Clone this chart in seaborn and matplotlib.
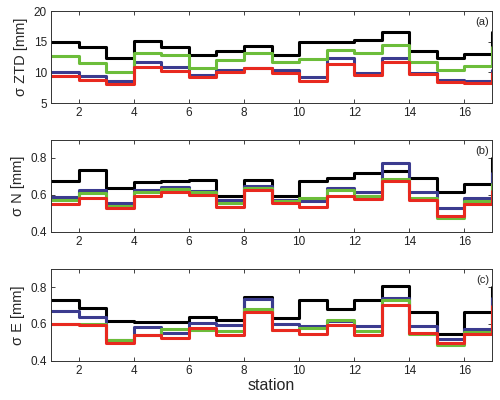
import numpy as np
import pandas as pd
import matplotlib
matplotlib.use("Agg")
import matplotlib.pyplot as plt
import seaborn as sns

# stations (last one sits on the right edge of the axes)
station = list(range(1, 18))

# (a) sigma ZTD [mm]
ztd_black = [14.9, 14.2, 12.4, 15.1, 14.1, 12.85, 13.5, 14.3, 12.75, 14.9, 14.95, 15.3, 16.6, 13.4, 12.3, 13.0, 16.6]
ztd_green = [12.7, 11.5, 10.1, 13.1, 12.75, 10.75, 12.0, 13.1, 11.65, 12.15, 13.6, 13.1, 14.4, 11.65, 10.3, 11.1, 14.2]
ztd_blue = [10.1, 9.45, 8.6, 11.65, 10.9, 9.55, 10.4, 10.75, 10.4, 9.3, 12.3, 9.95, 12.3, 9.95, 8.7, 8.55, 10.4]
ztd_red = [9.4, 8.75, 8.1, 10.8, 10.25, 9.3, 10.0, 10.65, 9.95, 8.55, 11.3, 9.55, 11.75, 9.65, 8.45, 8.2, 9.9]

# (b) sigma N [mm]
n_black = [0.676, 0.736, 0.636, 0.669, 0.676, 0.682, 0.596, 0.680, 0.596, 0.673, 0.691, 0.718, 0.727, 0.691, 0.613, 0.660, 0.80]
n_green = [0.573, 0.609, 0.540, 0.613, 0.631, 0.615, 0.558, 0.638, 0.569, 0.582, 0.624, 0.596, 0.685, 0.582, 0.473, 0.569, 0.66]
n_blue = [0.587, 0.627, 0.555, 0.627, 0.642, 0.622, 0.573, 0.647, 0.573, 0.569, 0.636, 0.615, 0.773, 0.615, 0.527, 0.582, 0.72]
n_red = [0.551, 0.585, 0.527, 0.595, 0.613, 0.600, 0.531, 0.624, 0.555, 0.536, 0.591, 0.578, 0.673, 0.573, 0.485, 0.551, 0.62]

# (c) sigma E [mm]
e_black = [0.728, 0.688, 0.616, 0.611, 0.611, 0.638, 0.623, 0.746, 0.634, 0.733, 0.683, 0.731, 0.809, 0.665, 0.544, 0.665, 0.80]
e_green = [0.602, 0.602, 0.515, 0.539, 0.571, 0.566, 0.560, 0.680, 0.566, 0.580, 0.620, 0.560, 0.728, 0.544, 0.488, 0.557, 0.66]
e_blue = [0.668, 0.638, 0.515, 0.584, 0.553, 0.605, 0.593, 0.737, 0.602, 0.587, 0.616, 0.587, 0.740, 0.587, 0.520, 0.571, 0.74]
e_red = [0.602, 0.593, 0.497, 0.539, 0.526, 0.580, 0.539, 0.665, 0.566, 0.548, 0.596, 0.539, 0.705, 0.553, 0.499, 0.544, 0.70]

series_names = ["black", "blue", "green", "red"]
colors = {"black": "#000000", "blue": "#3b3b8f", "green": "#6cbd3a", "red": "#e8291f"}

panels = [
    ("σ ZTD [mm]", "(a)", {"black": ztd_black, "blue": ztd_blue, "green": ztd_green, "red": ztd_red}, (5, 20), [5, 10, 15, 20]),
    ("σ N [mm]", "(b)", {"black": n_black, "blue": n_blue, "green": n_green, "red": n_red}, (0.4, 0.9), [0.4, 0.6, 0.8]),
    ("σ E [mm]", "(c)", {"black": e_black, "blue": e_blue, "green": e_green, "red": e_red}, (0.4, 0.9), [0.4, 0.6, 0.8]),
]

sns.set_style("ticks")
plt.rcParams["font.family"] = ["Liberation Sans", "DejaVu Sans"]

fig = plt.figure(figsize=(5, 4), dpi=100)
bottoms = [0.7425, 0.421, 0.098]

for (ylab, tag, data, ylim, yticks), b in zip(panels, bottoms):
    ax = fig.add_axes([0.102, b, 0.882, 0.23])
    df = pd.DataFrame([
        {"station": s, "value": v, "series": name}
        for name in series_names
        for s, v in zip(station, data[name])
    ])
    sns.lineplot(data=df, x="station", y="value", hue="series", hue_order=series_names,
                 palette=colors, drawstyle="steps-post", linewidth=2.2, legend=False, ax=ax)
    ax.set_xlim(1, 17)
    ax.set_ylim(*ylim)
    ax.set_yticks(yticks)
    ax.set_yticklabels([f"{t:g}" for t in yticks])
    ax.set_xticks(range(2, 17, 2))
    ax.tick_params(direction="in", length=3, width=0.6, top=True, right=True,
                   labelsize=8.5, colors="#222222", pad=3)
    for sp in ax.spines.values():
        sp.set_visible(True)
        sp.set_linewidth(0.7)
        sp.set_color("#333333")
    ax.set_ylabel(ylab, fontsize=10.5, labelpad=4)
    ax.set_xlabel("")
    ax.text(0.993, 0.93, tag, transform=ax.transAxes, ha="right", va="top", fontsize=8)

ax.set_xlabel("station", fontsize=11.5, labelpad=1)

fig.savefig("out.png", dpi=100)
